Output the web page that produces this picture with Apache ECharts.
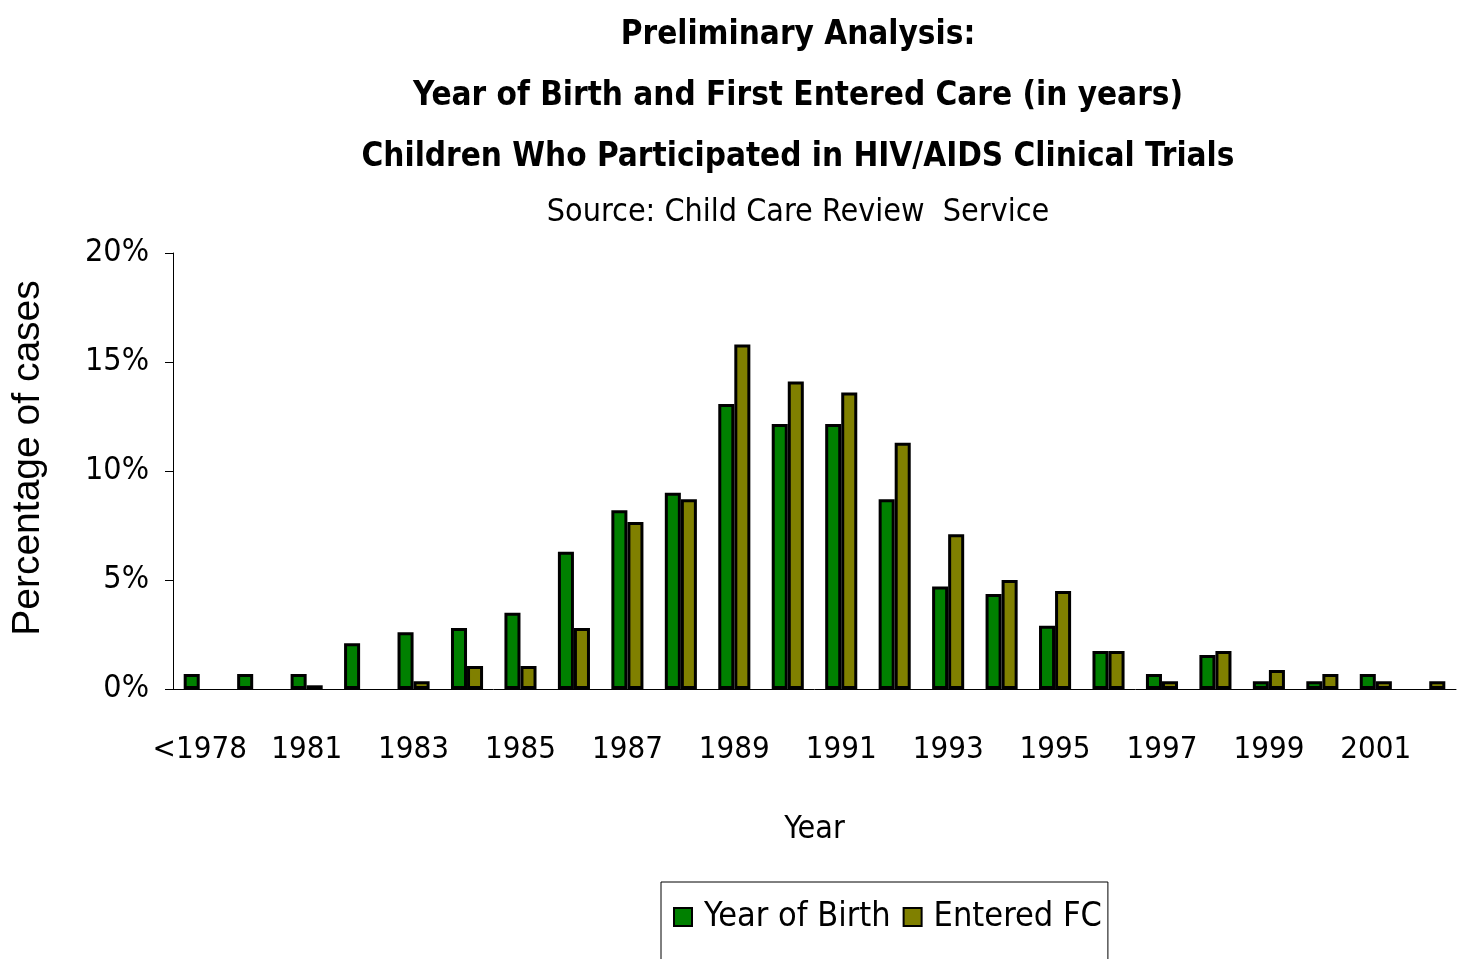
<!DOCTYPE html>
<html>
<head>
<meta charset="utf-8">
<script src="https://cdn.jsdelivr.net/npm/echarts@6/dist/echarts.min.js"></script>
<style>
  html, body { margin: 0; padding: 0; background: #fff; }
  #chart { width: 1458px; height: 959px; }
</style>
</head>
<body>
<div id="chart"></div>
<script>
// data (percent of cases), null = no bar
const years = ['<1978', '1980', '1981', '1982', '1983', '1984', '1985', '1986', '1987', '1988',
  '1989', '1990', '1991', '1992', '1993', '1994', '1995', '1996', '1997', '1998',
  '1999', '2000', '2001', '2002'];
const yearOfBirth = [0.69, 0.69, 0.69, 2.1, 2.6, 2.8, 3.5, 6.3, 8.2, 9.0,
  13.07, 12.16, 12.16, 8.7, 4.7, 4.36, 2.9, 1.74, 0.69, 1.56,
  0.35, 0.35, 0.69, null];
const enteredFC = [null, null, 0.17, null, 0.35, 1.05, 1.05, 2.8, 7.66, 8.7,
  15.8, 14.1, 13.6, 11.3, 7.1, 5.0, 4.5, 1.74, 0.35, 1.74,
  0.87, 0.69, 0.35, 0.35];
const yTicks = [0, 5, 10, 15, 20];

const narrow = '"Liberation Sans Narrow", "DejaVu Sans Condensed", sans-serif';

const option = {
  animation: false,
  title: [
    {
      text: 'Preliminary Analysis:\nYear of Birth and First Entered Care (in years)\nChildren Who Participated in HIV/AIDS Clinical Trials',
      left: 793, top: 0, textAlign: 'center',
      textStyle: { fontFamily: narrow, fontWeight: 'bold', fontSize: 33, lineHeight: 61, color: '#000' }
    },
    {
      text: 'Source: Child Care Review  Service',
      left: 793, top: 192, textAlign: 'center',
      textStyle: { fontFamily: narrow, fontWeight: 'normal', fontSize: 32, color: '#000' }
    }
  ],
  legend: {
    left: 661, top: 882,
    padding: [18, 6, 40, 12],
    borderColor: '#000', borderWidth: 1,
    itemWidth: 18, itemHeight: 18, itemGap: 12,
    icon: 'rect',
    textStyle: { fontFamily: narrow, fontSize: 34, color: '#000', padding: [0, 0, 0, 7] }
  },
  grid: { left: 173, right: 2, top: 253, bottom: 270, containLabel: false },
  xAxis: {
    type: 'category',
    data: years,
    name: 'Year', nameLocation: 'middle', nameGap: 125,
    nameTextStyle: { fontFamily: narrow, fontSize: 32, color: '#000' },
    axisLine: { lineStyle: { color: '#000', width: 1 } },
    axisTick: { interval: 0, length: 11, lineStyle: { color: '#000' } },
    axisLabel: { interval: 1, margin: 45, fontFamily: narrow, fontSize: 31, color: '#000' }
  },
  yAxis: {
    type: 'value',
    min: yTicks[0], max: yTicks[yTicks.length - 1], interval: 5,
    name: 'Percentage of cases', nameLocation: 'middle', nameGap: 125,
    nameTextStyle: { fontFamily: '"Liberation Sans", Arial, sans-serif', fontSize: 39, color: '#000', padding: [0, 0, 0, 26] },
    axisLine: { show: true, lineStyle: { color: '#000', width: 1 } },
    axisTick: { show: true, length: 8, lineStyle: { color: '#000' } },
    splitLine: { show: false },
    axisLabel: { formatter: '{value}%', margin: 24, fontFamily: narrow, fontSize: 32, color: '#000' }
  },
  series: [
    {
      name: 'Year of Birth', type: 'bar', data: yearOfBirth,
      barGap: '0%', barCategoryGap: '40%',
      itemStyle: { color: '#008000', borderColor: '#000', borderWidth: 3 }
    },
    {
      name: 'Entered FC', type: 'bar', data: enteredFC,
      barGap: '0%', barCategoryGap: '40%',
      itemStyle: { color: '#808000', borderColor: '#000', borderWidth: 3 }
    }
  ]
};

const chart = echarts.init(document.getElementById('chart'));
chart.setOption(option);
window.onresize = function () { chart.resize(); };
</script>
</body>
</html>
